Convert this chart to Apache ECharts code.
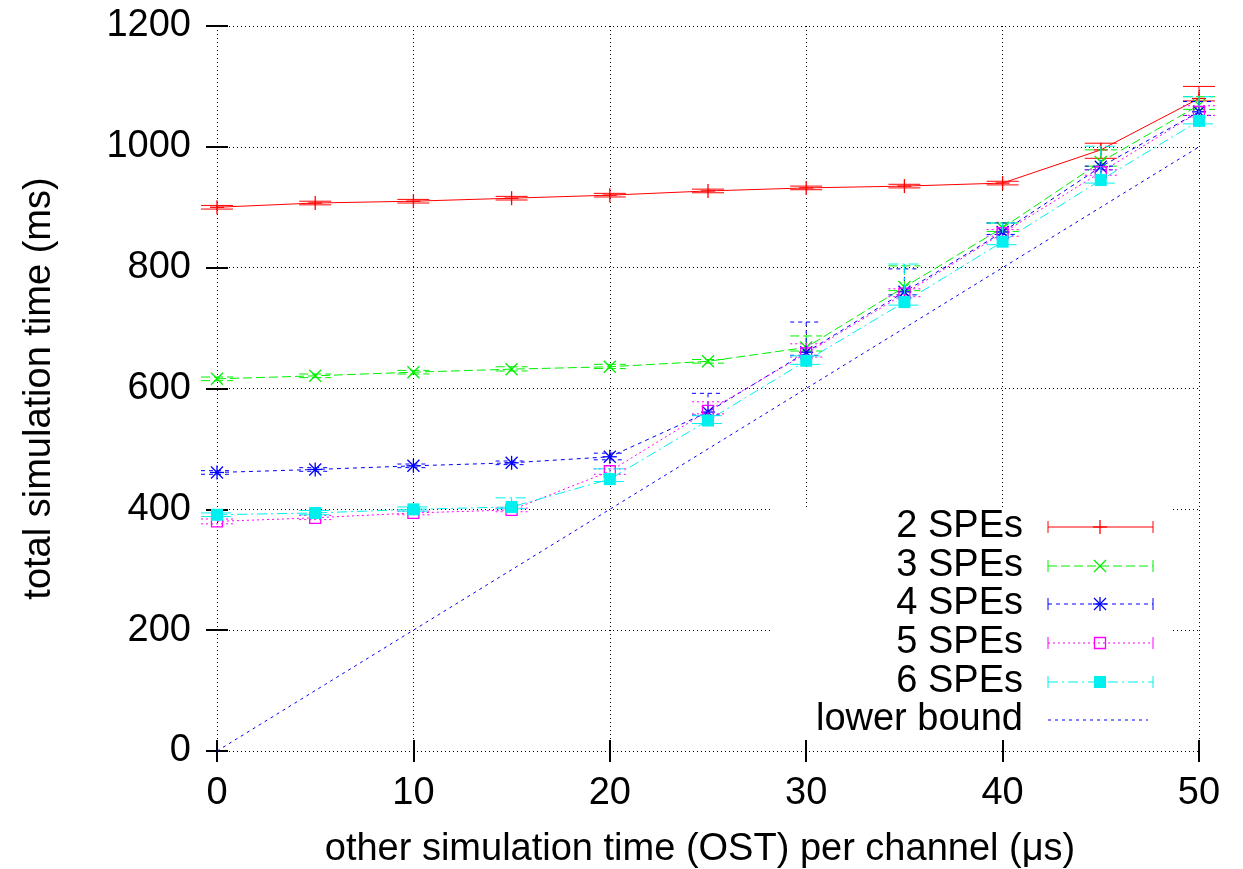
<!DOCTYPE html>
<html>
<head>
<meta charset="utf-8">
<script src="https://cdn.jsdelivr.net/npm/echarts@6/dist/echarts.min.js"></script>
<style>
html,body{margin:0;padding:0;background:#fff;}
#chart{width:1243px;height:869px;}
</style>
</head>
<body>
<div id="chart"></div>
<script>
// ---- data ----
const xs = [0, 5, 10, 15, 20, 25, 30, 35, 40, 45, 50];

const spe2   = [900, 907, 910, 915, 920, 927, 932, 935, 940, 995, 1080];
const spe2Lo = [897, 904, 907, 912, 917, 924, 929, 932, 937, 981, 1076];
const spe2Hi = [903, 910, 913, 918, 923, 930, 935, 938, 943, 1006, 1100];

const spe3   = [616, 621, 627, 632, 636, 645, 668, 768, 866, 975, 1069];
const spe3Lo = [613, 618, 624, 629, 633, 642, 662, 762, 860, 968, 1062];
const spe3Hi = [619, 624, 630, 636, 640, 648, 687, 803, 874, 995, 1083];

const spe4   = [461, 466, 472, 477, 487, 561, 660, 760, 859, 967, 1058];
const spe4Lo = [458, 463, 469, 474, 482, 556, 655, 755, 855, 962, 1052];
const spe4Hi = [464, 469, 475, 480, 493, 592, 710, 798, 874, 968, 1075];

const spe5   = [380, 386, 394, 399, 463, 563, 658, 757, 857, 958, 1058];
const spe5Lo = [376, 383, 391, 396, 458, 558, 652, 752, 852, 953, 1052];
const spe5Hi = [384, 390, 397, 402, 467, 578, 674, 765, 863, 962, 1068];

const spe6   = [391, 394, 400, 404, 450, 547, 646, 743, 843, 945, 1043];
const spe6Lo = [388, 391, 397, 401, 446, 542, 640, 738, 838, 940, 1038];
const spe6Hi = [394, 398, 404, 419, 467, 555, 654, 806, 874, 1001, 1083];

const lowerX = [0, 50];
const lowerY = [0, 1000];

const seriesNames = ['2 SPEs', '3 SPEs', '4 SPEs', '5 SPEs', '6 SPEs', 'lower bound'];
const xTicks = { min: 0, max: 50, interval: 10 };
const yTicks = { min: 0, max: 1200, interval: 200 };

// ---- styles ----
const FONT = 'Liberation Sans, Arial, Helvetica, sans-serif';
const FS = 38;
const styles = [
  { color: '#ff0000', dash: 'solid',          marker: 'plus' },
  { color: '#00f000', dash: [9, 4],           marker: 'x' },
  { color: '#0000ff', dash: [4, 4],           marker: 'star' },
  { color: '#ff00ff', dash: [2, 3],           marker: 'osq' },
  { color: '#00f0f0', dash: [10, 4, 2, 4],    marker: 'fsq' }
];
const lowerStyle = { color: '#0000ff', dash: [3, 4] };

const sets = [
  [spe2, spe2Lo, spe2Hi],
  [spe3, spe3Lo, spe3Hi],
  [spe4, spe4Lo, spe4Hi],
  [spe5, spe5Lo, spe5Hi],
  [spe6, spe6Lo, spe6Hi]
];

function markerShapes(kind, cx, cy, color) {
  const s = 7;
  const ls = { stroke: color, lineWidth: 1.3, fill: null };
  const out = [];
  const L = (x1, y1, x2, y2) => out.push({ type: 'line', shape: { x1, y1, x2, y2 }, style: ls });
  if (kind === 'plus' || kind === 'star') { L(cx - s, cy, cx + s, cy); L(cx, cy - s, cx, cy + s); }
  if (kind === 'x' || kind === 'star') { L(cx - s + 1, cy - s + 1, cx + s - 1, cy + s - 1); L(cx - s + 1, cy + s - 1, cx + s - 1, cy - s + 1); }
  if (kind === 'osq') out.push({ type: 'rect', shape: { x: cx - 5.5, y: cy - 5.5, width: 11, height: 11 }, style: { stroke: color, lineWidth: 1.3, fill: null } });
  if (kind === 'fsq') out.push({ type: 'rect', shape: { x: cx - 6, y: cy - 6, width: 12, height: 12 }, style: { fill: color, stroke: null } });
  return out;
}

const series = [];
sets.forEach((set, i) => {
  const st = styles[i];
  series.push({
    name: seriesNames[i],
    type: 'line',
    data: xs.map((x, k) => [x, set[0][k]]),
    showSymbol: false,
    symbol: 'none',
    lineStyle: { color: st.color, width: 1, type: st.dash },
    z: 2 + i * 0.1,
    animation: false,
    silent: true
  });
  series.push({
    name: seriesNames[i] + ' err',
    type: 'custom',
    data: xs.map((x, k) => [x, set[0][k], set[1][k], set[2][k]]),
    renderItem: function (params, api) {
      const x = api.value(0);
      const c = api.coord([x, api.value(1)]);
      const lo = api.coord([x, api.value(2)]);
      const hi = api.coord([x, api.value(3)]);
      const w = 16;
      const ls = { stroke: st.color, lineWidth: 1, lineDash: st.dash === 'solid' ? null : st.dash, fill: null };
      const children = [
        { type: 'line', shape: { x1: c[0], y1: hi[1], x2: c[0], y2: lo[1] }, style: ls },
        { type: 'line', shape: { x1: c[0] - w, y1: hi[1], x2: c[0] + w, y2: hi[1] }, style: ls },
        { type: 'line', shape: { x1: c[0] - w, y1: lo[1], x2: c[0] + w, y2: lo[1] }, style: ls }
      ].concat(markerShapes(st.marker, c[0], c[1], st.color));
      return { type: 'group', children };
    },
    encode: { x: 0, y: 1 },
    z: 3 + i * 0.1,
    animation: false,
    silent: true
  });
});
series.push({
  name: seriesNames[5],
  type: 'line',
  data: lowerX.map((x, k) => [x, lowerY[k]]),
  showSymbol: false,
  symbol: 'none',
  lineStyle: { color: lowerStyle.color, width: 1, type: lowerStyle.dash },
  z: 2,
  animation: false,
  silent: true
});

// ---- legend drawn as graphic ----
const legend = [];
legend.push({ type: 'rect', shape: { x: 770, y: 507, width: 400, height: 232 }, style: { fill: '#ffffff' }, z: 1 });
const rowY = [527, 566, 604, 643, 682, 720];
const sx1 = 1048, sx2 = 1153, smid = 1100;
seriesNames.forEach((nm, i) => {
  const y = rowY[i];
  legend.push({ type: 'text', x: 1023, y: y, style: { text: nm, font: FS + 'px ' + FONT, fill: '#000', align: 'right', verticalAlign: 'middle' }, z: 5 });
  if (i < 5) {
    const st = styles[i];
    const ls = { stroke: st.color, lineWidth: 1, lineDash: st.dash === 'solid' ? null : st.dash };
    legend.push({ type: 'line', shape: { x1: sx1, y1: y, x2: sx2, y2: y }, style: ls, z: 5 });
    legend.push({ type: 'line', shape: { x1: sx1, y1: y - 6, x2: sx1, y2: y + 6 }, style: { stroke: st.color, lineWidth: 1 }, z: 5 });
    legend.push({ type: 'line', shape: { x1: sx2, y1: y - 6, x2: sx2, y2: y + 6 }, style: { stroke: st.color, lineWidth: 1 }, z: 5 });
    markerShapes(st.marker, smid, y, st.color).forEach(m => { m.z = 6; legend.push(m); });
  } else {
    legend.push({ type: 'line', shape: { x1: sx1, y1: y, x2: 1148, y2: y }, style: { stroke: lowerStyle.color, lineWidth: 1, lineDash: lowerStyle.dash }, z: 5 });
  }
});

const gridLine = { show: true, lineStyle: { color: '#000', type: [1, 3], width: 1 } };
const tick = { show: true, inside: true, length: 11, lineStyle: { color: '#000', width: 2 } };
const label = { color: '#000', fontSize: FS, fontFamily: FONT, formatter: v => String(v) };

const option = {
  backgroundColor: '#fff',
  animation: false,
  grid: { left: 217, right: 44, top: 26, bottom: 118, containLabel: false, outerBoundsMode: 'none' },
  xAxis: [
    {
      type: 'value', min: xTicks.min, max: xTicks.max, interval: xTicks.interval,
      position: 'bottom',
      name: 'other simulation time (OST) per channel (\u03bcs)',
      nameLocation: 'middle', nameGap: 80,
      nameTextStyle: { color: '#000', fontSize: FS, fontFamily: FONT, padding: [0, 16, 0, 0] },
      axisLine: { show: false }, axisTick: tick, splitLine: gridLine,
      axisLabel: Object.assign({ margin: 24 }, label)
    },
    {
      type: 'value', min: xTicks.min, max: xTicks.max, interval: xTicks.interval,
      position: 'top', axisLine: { show: false }, axisTick: tick,
      splitLine: { show: false }, axisLabel: { show: false }
    }
  ],
  yAxis: [
    {
      type: 'value', min: yTicks.min, max: yTicks.max, interval: yTicks.interval,
      position: 'left',
      name: 'total simulation time (ms)',
      nameLocation: 'middle', nameGap: 158,
      nameTextStyle: { color: '#000', fontSize: FS, fontFamily: FONT },
      axisLine: { show: false }, axisTick: tick, splitLine: gridLine,
      axisLabel: Object.assign({ margin: 26 }, label)
    },
    {
      type: 'value', min: yTicks.min, max: yTicks.max, interval: yTicks.interval,
      position: 'right', axisLine: { show: false }, axisTick: tick,
      splitLine: { show: false }, axisLabel: { show: false }
    }
  ],
  graphic: legend,
  series: series
};

const chart = echarts.init(document.getElementById('chart'), null, { renderer: 'canvas' });
chart.setOption(option);
</script>
</body>
</html>
